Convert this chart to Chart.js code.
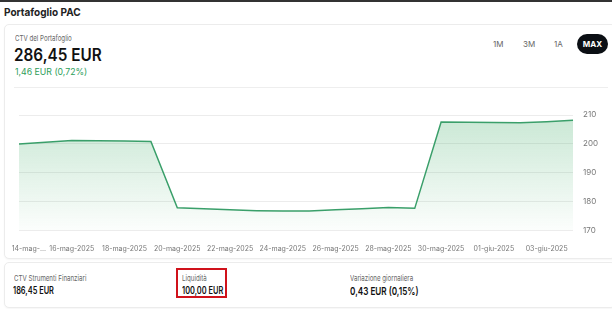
<!DOCTYPE html>
<html>
<head>
<meta charset="utf-8">
<script src="https://cdn.jsdelivr.net/npm/chart.js@4.4.1/dist/chart.umd.min.js"></script>
<style>
    body { margin: 0; width: 612px; height: 309px; background: #fff; font-family: Inter, "Noto Sans", sans-serif; position: relative; overflow: hidden; color: #111; }
    .topbar { position: absolute; left: 0; top: 0; width: 612px; height: 2px; background: #333; }
    .t { position: absolute; white-space: nowrap; transform-origin: 0 50%; }
    .title { left: 4px; top: 5px; font-size: 11px; font-weight: 700; color: #222; transform: scaleX(0.91); }
    .card { position: absolute; background: #fff; border: 1px solid #ececec; border-radius: 5px; box-shadow: 0 1px 2px rgba(0,0,0,0.04); }
    .lbl { font-size: 8px; color: #666; transform: scaleX(0.77); }
    .big { left: 14px; top: 45px; font-size: 17px; font-weight: 600; color: #111; transform: scaleX(0.9); }
    .green { color: #2e9e5a; }
    .sep { position: absolute; left: 14px; top: 87px; width: 594px; height: 1px; background: #eee; }
    .btn { position: absolute; top: 39px; font-size: 8px; color: #666; }
    .max { position: absolute; left: 577px; top: 34px; width: 31px; height: 20px; border-radius: 10px; background: #0b0f14; color: #fff; font-size: 8px; font-weight: 700; text-align: center; line-height: 20px; }
    .val { top: 284px; font-size: 10px; font-weight: 600; color: #111; transform: scaleX(0.74); }
    .redbox { position: absolute; left: 176px; top: 268px; width: 51px; height: 30px; border: 2px solid #d0121b; box-sizing: border-box; }
    #wrap { position: absolute; left: 0; top: 101px; width: 612px; height: 158px; }
</style>
</head>
<body>
<div class="topbar"></div>
<div class="t title">Portafoglio PAC</div>
<div class="card" style="left:4px; top:24px; width:610px; height:233px;"></div>
<div class="t lbl" style="left:15px; top:33px;">CTV del Portafoglio</div>
<div class="t big">286,45 EUR</div>
<div class="t green" style="left:15px; top:66px; font-size:9px; transform: scaleX(0.97);">1,46 EUR (0,72%)</div>
<div class="btn" style="left:493px;">1M</div>
<div class="btn" style="left:523px;">3M</div>
<div class="btn" style="left:554px;">1A</div>
<div class="max">MAX</div>
<div class="sep"></div>
<div id="wrap"><canvas id="chart"></canvas></div>

<div class="card" style="left:4px; top:262px; width:610px; height:44px;"></div>
<div class="t lbl" style="left:14px; top:273px;">CTV Strumenti Finanziari</div>
<div class="t val" style="left:13px;">186,45 EUR</div>
<div class="redbox"></div>
<div class="t lbl" style="left:182px; top:273px;">Liquidità</div>
<div class="t val" style="left:182px;">100,00 EUR</div>
<div class="t lbl" style="left:350px; top:273px;">Variazione giornaliera</div>
<div class="t val green" style="left:350px; top:284px; font-size:11px;">0,43 EUR (0,15%)</div>

<script>
    // Daily portfolio value (EUR), 14 May - 4 June 2025
    const dates = ['14-mag-2025', '15-mag-2025', '16-mag-2025', '17-mag-2025', '18-mag-2025', '19-mag-2025',
        '20-mag-2025', '21-mag-2025', '22-mag-2025', '23-mag-2025', '24-mag-2025', '25-mag-2025',
        '26-mag-2025', '27-mag-2025', '28-mag-2025', '29-mag-2025', '30-mag-2025', '31-mag-2025',
        '01-giu-2025', '02-giu-2025', '03-giu-2025', '04-giu-2025'];
    const values = [200.0, 200.6, 201.2, 201.1, 201.0, 200.8,
        177.9, 177.6, 177.2, 176.9, 176.8, 176.8,
        177.2, 177.6, 178.0, 177.7, 207.6, 207.5,
        207.4, 207.3, 207.7, 208.2];
    const yTicks = [170, 180, 190, 200, 210];

    const ctx = document.getElementById('chart').getContext('2d');
    const grad = ctx.createLinearGradient(0, 14, 0, 128);
    grad.addColorStop(0, 'rgba(60, 170, 100, 0.28)');
    grad.addColorStop(1, 'rgba(60, 170, 100, 0.02)');

    new Chart(ctx, {
        type: 'line',
        data: {
            labels: dates,
            datasets: [{
                data: values,
                borderColor: '#3a9f6a',
                borderWidth: 1.5,
                backgroundColor: grad,
                fill: 'start',
                pointRadius: 0,
                tension: 0
            }]
        },
        options: {
            responsive: true,
            maintainAspectRatio: false,
            animation: false,
            layout: { padding: { left: 19, right: 4, top: 14, bottom: 0 } },
            plugins: { legend: { display: false }, tooltip: { enabled: false } },
            scales: {
                x: {
                    grid: { display: false },
                    border: { display: false },
                    afterFit: function (axis) { axis.paddingLeft = 0; axis.paddingRight = 0; },
                    ticks: {
                        autoSkip: false,
                        maxRotation: 0,
                        color: '#777',
                        font: { family: 'Inter', size: 7 },
                        padding: 6,
                        callback: function (val, index) {
                            if (index % 2 !== 0) return null;
                            // first label is cut short, as in the app
                            return index === 0 ? '          14-mag-...' : this.getLabelForValue(val);
                        }
                    }
                },
                y: {
                    position: 'right',
                    min: yTicks[0],
                    max: yTicks[yTicks.length - 1],
                    afterBuildTicks: function (axis) { axis.ticks = yTicks.map(v => ({ value: v })); },
                    afterFit: function (axis) { axis.paddingTop = 0; axis.paddingBottom = 0; },
                    grid: { color: '#ececec', drawTicks: false },
                    border: { display: false },
                    ticks: { color: '#777', font: { family: 'Inter', size: 8 }, padding: 10 }
                }
            }
        }
    });
</script>
</body>
</html>
